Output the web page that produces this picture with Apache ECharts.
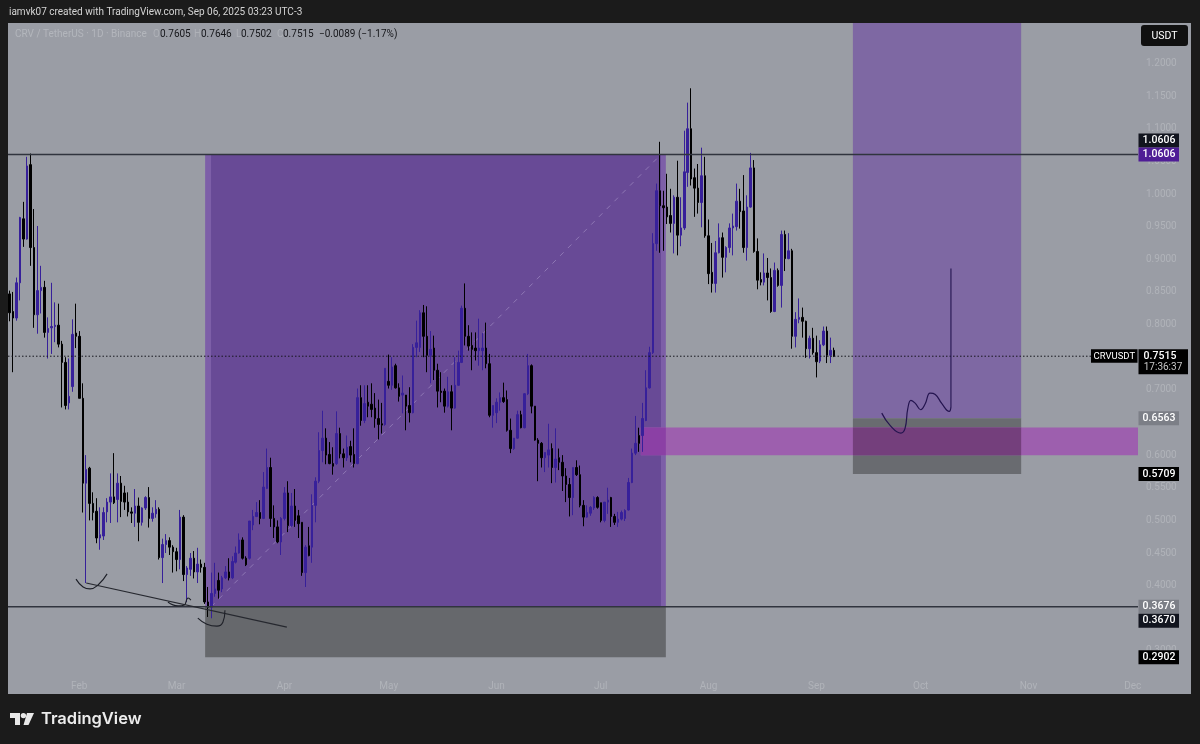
<!DOCTYPE html>
<html><head><meta charset="utf-8">
<script src="https://cdn.jsdelivr.net/npm/echarts@6/dist/echarts.min.js"></script>
<style>html,body{margin:0;padding:0;background:#1b1b1b}#c{width:1200px;height:744px}</style>
</head><body><div id="c"></div>
<script>
const monthLabels = {1:'Jan',2:'Feb',3:'Mar',4:'Apr',5:'May',6:'Jun',7:'Jul',8:'Aug',9:'Sep',10:'Oct',11:'Nov',12:'Dec'};
const firstDay = '2025-01-12';
const dayCount = 325;
const priceTicks = [0.3,0.35,0.4,0.45,0.5,0.55,0.6,0.65,0.7,0.75,0.8,0.85,0.9,0.95,1.0,1.05,1.1,1.15,1.2];

const opens = [
.847,.820,.810,.864,.962,.931,1.045,.918,.815,.852,
.857,.788,.795,.797,.799,.770,.742,.680,.705,.787,
.782,.687,.557,.580,.526,.514,.473,.476,.513,.528,
.536,.532,.557,.542,.528,.513,.511,.522,.497,.519,
.535,.503,.510,.517,.443,.463,.469,.459,.452,.440,
.505,.417,.425,.442,.421,.433,.428,.375,.367,.388,
.408,.395,.412,.421,.412,.436,.450,.470,.442,.442,
.493,.506,.512,.503,.549,.581,.503,.490,.467,.503,
.542,.492,.522,.507,.497,.420,.461,.459,.523,.560,
.607,.626,.601,.587,.587,.633,.602,.596,.613,.601,
.587,.688,.653,.681,.678,.672,.656,.648,.647,.713,
.707,.737,.703,.692,.692,.676,.665,.765,.765,.818,
.782,.753,.764,.730,.698,.698,.675,.697,.672,.707,
.742,.825,.782,.768,.764,.760,.760,.764,.740,.661,
.665,.681,.688,.685,.638,.610,.626,.662,.642,.694,
.737,.675,.623,.618,.596,.600,.610,.581,.596,.589,
.568,.555,.535,.581,.570,.523,.505,.511,.519,.535,
.527,.500,.528,.535,.506,.497,.502,.503,.516,.558,
.603,.630,.630,.653,.703,.757,.924,1.005,.982,.980,
.967,.955,.995,.937,.948,1.033,1.100,1.025,1.009,.987,
1.028,.936,.880,.863,.910,.933,.903,.918,.948,.950,
.989,.974,.918,.980,1.040,.912,.869,.865,.879,.872,
.820,.883,.860,.938,.901,.913,.782,.808,.811,.805,
.763,.779,.757,.744,.769,.790,.753,.7605];
const closes = [
.818,.810,.864,.964,.931,1.043,.918,.815,.852,.857,
.788,.794,.797,.799,.770,.742,.676,.690,.785,.782,
.687,.557,.578,.526,.512,.473,.478,.512,.528,.536,
.527,.557,.529,.528,.513,.511,.522,.497,.519,.535,
.503,.511,.517,.443,.463,.469,.459,.452,.440,.505,
.417,.427,.442,.421,.433,.428,.375,.367,.388,.395,
.393,.412,.421,.412,.437,.450,.470,.442,.432,.499,
.506,.512,.503,.551,.581,.503,.490,.467,.503,.542,
.492,.522,.500,.495,.420,.459,.446,.523,.560,.607,
.626,.600,.587,.583,.633,.602,.596,.612,.600,.587,
.688,.653,.679,.675,.670,.656,.647,.646,.733,.707,
.735,.703,.690,.695,.675,.665,.765,.772,.818,.782,
.753,.762,.730,.698,.696,.675,.697,.672,.707,.742,
.825,.782,.767,.762,.760,.764,.764,.740,.661,.676,
.681,.688,.682,.638,.610,.626,.662,.642,.694,.737,
.675,.623,.618,.596,.604,.608,.581,.594,.589,.568,
.555,.535,.581,.570,.523,.505,.512,.520,.535,.520,
.500,.528,.531,.506,.497,.502,.512,.515,.558,.603,
.618,.618,.656,.703,.757,.924,1.005,.982,.979,.965,
.955,.995,.937,.948,1.034,1.100,1.023,1.009,.987,1.028,
.936,.878,.863,.910,.933,.903,.918,.948,.951,.989,
.973,.918,.980,1.040,.912,.868,.865,.879,.872,.820,
.883,.860,.938,.901,.913,.782,.808,.811,.805,.763,
.779,.757,.743,.769,.790,.753,.7605,.7515];
const lows = [
.805,.727,.806,.837,.919,.930,.890,.795,.786,.817,
.780,.748,.755,.773,.765,.673,.670,.670,.697,.764,
.687,.512,.404,.500,.500,.465,.455,.470,.497,.496,
.525,.497,.505,.516,.506,.496,.490,.468,.492,.516,
.489,.498,.504,.440,.404,.450,.447,.420,.422,.425,
.407,.375,.415,.411,.404,.420,.372,.352,.350,.383,
.380,.390,.410,.408,.410,.434,.449,.440,.430,.440,
.485,.505,.494,.502,.548,.490,.473,.465,.447,.500,
.482,.490,.490,.473,.415,.398,.445,.435,.497,.557,
.589,.586,.586,.570,.585,.595,.581,.591,.589,.581,
.586,.645,.649,.658,.658,.642,.624,.633,.645,.702,
.700,.702,.682,.664,.638,.650,.664,.750,.758,.750,
.727,.710,.715,.673,.681,.665,.673,.638,.671,.706,
.741,.768,.760,.730,.745,.737,.730,.733,.658,.642,
.649,.668,.680,.636,.603,.608,.625,.641,.641,.692,
.664,.622,.560,.581,.574,.581,.557,.558,.577,.545,
.528,.506,.508,.568,.520,.491,.504,.507,.516,.518,
.497,.497,.510,.490,.493,.490,.500,.499,.515,.557,
.600,.605,.605,.652,.702,.755,.913,.910,.913,.954,
.941,.909,.906,.920,.945,1.011,1.013,.965,.970,.949,
.933,.862,.849,.849,.909,.872,.880,.910,.906,.944,
.947,.910,.898,.979,.910,.854,.860,.860,.837,.818,
.819,.858,.826,.882,.900,.763,.765,.802,.780,.749,
.748,.754,.719,.741,.767,.741,.741,.7502];
const highs = [
.852,.850,.872,.965,.988,1.057,1.062,.977,.951,.890,
.867,.811,.864,.834,.832,.775,.750,.748,.808,.832,
.790,.710,.600,.582,.543,.534,.520,.520,.534,.572,
.603,.572,.568,.553,.543,.520,.548,.535,.520,.537,
.551,.520,.531,.520,.472,.479,.474,.462,.458,.516,
.508,.430,.450,.453,.458,.440,.435,.398,.420,.435,
.420,.415,.430,.442,.445,.460,.480,.474,.445,.499,
.516,.528,.531,.574,.610,.596,.523,.500,.505,.551,
.560,.542,.548,.516,.497,.462,.490,.540,.566,.635,
.668,.641,.620,.612,.667,.642,.610,.630,.622,.641,
.702,.707,.707,.707,.710,.695,.685,.680,.733,.754,
.750,.740,.710,.722,.692,.704,.770,.806,.822,.830,
.828,.790,.783,.740,.727,.702,.720,.707,.750,.760,
.829,.863,.799,.788,.788,.809,.787,.803,.755,.676,
.687,.696,.711,.699,.656,.626,.668,.668,.695,.755,
.739,.675,.626,.620,.604,.648,.618,.641,.610,.600,
.580,.565,.581,.592,.584,.531,.523,.522,.537,.537,
.527,.528,.550,.536,.510,.513,.515,.517,.565,.610,
.660,.642,.680,.730,.766,.940,1.016,1.080,1.005,1.031,
1.008,.998,1.051,.995,1.097,1.140,1.162,1.039,1.046,1.071,
1.057,.961,.925,.928,.955,.941,.920,.955,.970,1.016,
1.008,1.029,.998,1.063,1.052,.932,.880,.909,.902,.886,
.895,.886,.944,.944,.940,.916,.819,.840,.826,.806,
.783,.795,.783,.776,.797,.797,.780,.7646];

const entryPrice = 0.3676, targetPrice = 1.0606, stopPrice = 0.2902;
const lastClose = 0.7515;
/* overlay drawings: [start day index, end day index, top price, bottom price, colour] */
const boxes = [
  [56.2,188.7,targetPrice,entryPrice,'#7d5fa8'],
  [57.9,187.3,targetPrice,entryPrice,'#684a96'],
  [56.2,188.7,entryPrice,stopPrice,'#66686c'],
  [242.5,290.9,1.32,0.6563,'#7e68a3'],
  [242.5,290.9,0.6563,0.5709,'#696b70'],
  [181.5,324.5,0.6421,0.5998,'#9d5fae'],
  [181.5,188.7,0.6421,0.5998,'#8b40a5'],
  [242.5,290.9,0.6421,0.5998,'#743f7c']
];
const diagonal = [[57.9,entryPrice],[187.3,targetPrice]];
const trendLine = [[22.0,.404],[79.7,.3365]];
const arcA = [[19.06,.410],[21.1,.398],[23.1,.395],[25.4,.401],[28.0,.418]];
const arcB = [[45.5,.375],[48.4,.369],[50.1,.370],[51.3,.381],[52.1,.378]];
const arcC = [[54.1,.3503],[56.7,.341],[59.6,.338],[61.3,.344],[61.9,.3625]];
const wave = [[250.8,.6643],[253.2,.6455],[256.3,.6337],[257.5,.6409],[258.3,.6715],[259.2,.6837],[260.4,.6796],[262.0,.6695],[263.3,.6787],[264.7,.6949],[266.2,.6929],[268.1,.6787],[270.2,.6669],[270.7,.6735]];
const spike = [[270.7,.6735],[270.7,.8857]];
const tags = [
  {price:targetPrice,text:'1.0606',bg:'#12151f',dy:-14},
  {price:targetPrice,text:'1.0606',bg:'#4f1d96',dy:0},
  {price:0.6563,text:'0.6563',bg:'#7c7f87',dy:0},
  {price:0.5709,text:'0.5709',bg:'#000000',dy:0},
  {price:entryPrice,text:'0.3676',bg:'#7c7f87',dy:0},
  {price:0.3670,text:'0.3670',bg:'#12151f',dy:13.5},
  {price:stopPrice,text:'0.2902',bg:'#000000',dy:0}
];

const days=[]; {
  const d=new Date(firstDay+'T00:00:00Z');
  for(let i=0;i<dayCount;i++){days.push(d.toISOString().slice(0,10));d.setUTCDate(d.getUTCDate()+1);}
}
const UP='#37209a', DOWN='#000000', FONT='Roboto, "Open Sans", sans-serif', FAINT='#b0b3b9';
const candles=opens.map((o,i)=>[o,closes[i],lows[i],highs[i]]);
const chart=echarts.init(document.getElementById('c'),null,{renderer:'canvas'});

function ln(data,color,width,extra){
  return Object.assign({type:'line',xAxisIndex:1,yAxisIndex:0,data,showSymbol:false,silent:true,z:6,
    lineStyle:{color,width},animation:false},extra||{});
}
const tagFont='500 10.5px '+FONT;
const legendFont='10px '+FONT;
chart.setOption({
  animation:false,
  backgroundColor:'#1b1b1b',
  grid:{left:8,top:23,width:1130,height:671,containLabel:false},
  xAxis:[
    {type:'category',data:days,boundaryGap:true,position:'bottom',
     axisLine:{show:false},axisTick:{show:false},splitLine:{show:false},
     axisLabel:{inside:true,margin:3,color:FAINT,fontSize:10,fontFamily:FONT,
       interval:(i,v)=>v.slice(8)==='01',
       formatter:v=>monthLabels[+v.slice(5,7)]}},
    {type:'value',min:-0.5,max:dayCount-0.5,show:false}
  ],
  yAxis:[{type:'value',position:'right',min:0.2340,max:1.2620,scale:true,
    axisLine:{show:false},axisTick:{show:false},splitLine:{show:false},
    axisLabel:{customValues:priceTicks,margin:8,color:FAINT,fontSize:10,fontFamily:FONT,
      align:'left',formatter:v=>v.toFixed(4)}}],
  graphic:[
    {type:'rect',z:-10,silent:true,shape:{x:8,y:23,width:1183,height:671},style:{fill:'#9a9da5'}},
    {type:'rect',z:20,shape:{x:1141,y:25,width:47,height:21,r:3},style:{fill:'#101010'}},
    {type:'text',z:21,style:{x:1164.5,y:36,text:'USDT',fill:'#fff',font:'10.5px '+FONT,align:'center',verticalAlign:'middle'}},
    {type:'text',z:21,style:{x:9,y:12,text:'iamvk07 created with TradingView.com, Sep 06, 2025 03:23 UTC-3',fill:'#d4d4d4',font:'10px '+FONT,verticalAlign:'middle'}},
    {type:'text',z:21,style:{x:15,y:34,text:'CRV / TetherUS · 1D · Binance',fill:'#b3b6bc',font:legendFont,verticalAlign:'middle'}},
    ...[['O',153,'0.7605',160],['H',194,'0.7646',201],['L',236,'0.7502',241],['C',277,'0.7515',283]].flatMap(r=>[
      {type:'text',z:21,style:{x:r[1],y:34,text:r[0],fill:'#aeb1b7',font:legendFont,verticalAlign:'middle'}},
      {type:'text',z:21,style:{x:r[3],y:34,text:r[2],fill:'#15161a',font:legendFont,verticalAlign:'middle'}}
    ]),
    {type:'text',z:21,style:{x:319,y:34,text:'−0.0089 (−1.17%)',fill:'#15161a',font:legendFont,verticalAlign:'middle'}},
    {type:'polygon',z:21,shape:{points:[[10,713],[20,713],[20,725],[15,725],[15,718],[10,718]]},style:{fill:'#e8e8e8'}},
    {type:'circle',z:21,shape:{cx:23.4,cy:715.6,r:2.7},style:{fill:'#e8e8e8'}},
    {type:'polygon',z:21,shape:{points:[[27,713],[34,713],[28.5,725],[23.5,725]]},style:{fill:'#e8e8e8'}},
    {type:'text',z:21,style:{x:41,y:719.5,text:'TradingView',fill:'#ececec',font:'600 16.5px Inter, '+FONT,verticalAlign:'middle'}}
  ],
  series:[
    {type:'custom',xAxisIndex:1,yAxisIndex:0,z:1,clip:true,silent:true,data:boxes,
     encode:{x:[0,1],y:[2,3]},
     renderItem:(p,api)=>{
       const b=boxes[p.dataIndex], a=api.coord([b[0],b[2]]), c=api.coord([b[1],b[3]]);
       return {type:'rect',shape:{x:a[0],y:a[1],width:c[0]-a[0],height:c[1]-a[1]},style:{fill:b[4]}};
     }},
    ln(diagonal,'#a993c9',1,{z:2,lineStyle:{color:'#8f78b5',width:1,type:[5,6]}}),
    {type:'candlestick',xAxisIndex:0,yAxisIndex:0,data:candles,z:4,barWidth:2,silent:true,
     itemStyle:{color:UP,color0:DOWN,borderColor:UP,borderColor0:DOWN,borderWidth:1}},
    ln([[-0.5,targetPrice],[324.5,targetPrice]],'#30343e',1.4),
    ln([[-0.5,entryPrice],[324.5,entryPrice]],'#30343e',1.4),
    ln([[-0.5,lastClose],[311,lastClose]],'#17171f',1,{lineStyle:{color:'#17171f',width:1,type:[1.5,2]}}),
    ln(trendLine,'#26282f',1.2),
    ln(arcA,'#1e2028',1.1,{smooth:0.5}),
    ln(arcB,'#1e2028',1.1,{smooth:0.5}),
    ln(arcC,'#1e2028',1.1,{smooth:0.5}),
    ln(wave,'#24144f',1.2,{smooth:0.45}),
    ln(spike,'#24144f',1.1),
    {type:'custom',xAxisIndex:1,yAxisIndex:0,z:8,clip:false,silent:true,data:tags.map(t=>[324.5,t.price]),
     encode:{x:0,y:1},
     renderItem:(p,api)=>{
       const t=tags[p.dataIndex], c=api.coord([324.5,t.price]), y=c[1]+t.dy;
       return {type:'group',children:[
         {type:'rect',shape:{x:c[0]+0.5,y:y-7,width:40.5,height:14},style:{fill:t.bg}},
         {type:'text',style:{x:c[0]+21,y:y,text:t.text,fill:'#fff',font:tagFont,align:'center',verticalAlign:'middle'}}
       ]};
     }},
    {type:'custom',xAxisIndex:1,yAxisIndex:0,z:8,clip:false,silent:true,data:[[324.5,lastClose]],
     encode:{x:0,y:1},
     renderItem:(p,api)=>{
       const c=api.coord([324.5,lastClose]);
       return {type:'group',children:[
         {type:'rect',shape:{x:c[0]-47,y:c[1]-7,width:46.5,height:13.5},style:{fill:'#000'}},
         {type:'text',style:{x:c[0]-23.7,y:c[1],text:'CRVUSDT',fill:'#fff',font:'9.5px '+FONT,align:'center',verticalAlign:'middle'}},
         {type:'rect',shape:{x:c[0]+0.5,y:c[1]-7,width:49.5,height:25},style:{fill:'#000'}},
         {type:'text',style:{x:c[0]+22,y:c[1],text:lastClose.toFixed(4),fill:'#fff',font:tagFont,align:'center',verticalAlign:'middle'}},
         {type:'text',style:{x:c[0]+25,y:c[1]+11.5,text:'17:36:37',fill:'#c8c8c8',font:'10px '+FONT,align:'center',verticalAlign:'middle'}}
       ]};
     }}
  ]
});
</script></body></html>
